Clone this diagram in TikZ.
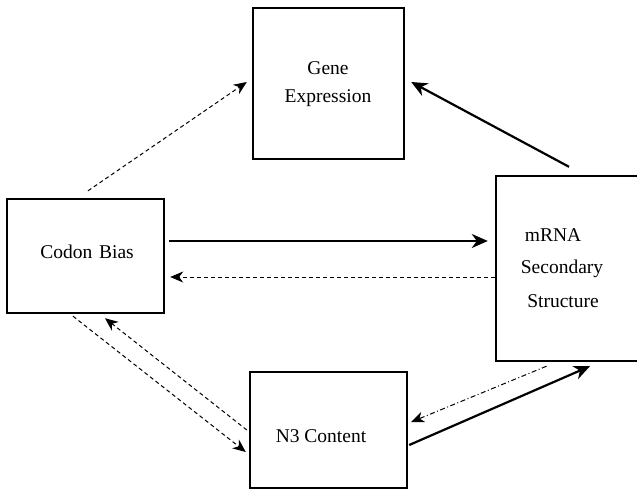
\documentclass[tikz,border=0pt]{standalone}
\usepackage{fontspec}
\setmainfont{Liberation Serif}
\usetikzlibrary{arrows.meta,calc}
\begin{document}
\begin{tikzpicture}[x=1pt,y=-1pt,
  box/.style={draw,line width=2.4pt,rectangle,inner sep=0pt},
  lbl/.style={anchor=base,inner sep=0pt,font=\rmfamily\fontsize{19.5}{24}\selectfont},
  strong/.style={line width=2.2pt,-{Stealth[length=16pt,width=14pt,inset=5pt]}},
  weak/.style={line width=1pt,dash pattern=on 4pt off 3pt,-{Stealth[length=13pt,width=11pt,inset=4pt]}},
  weakdd/.style={line width=1pt,dash pattern=on 5pt off 2.5pt on 1pt off 2.5pt,-{Stealth[length=13pt,width=11pt,inset=4pt]}}]
\useasboundingbox (0,0) rectangle (637,491);
\fill[white] (0,0) rectangle (637,491);

% boxes
\node[box,minimum width=157pt,minimum height=114pt] (codon) at (85.5,256) {};
\node[box,minimum width=151pt,minimum height=151pt] (gene) at (328.5,83.5) {};
\node[box,minimum width=143pt,minimum height=185pt] (mrna) at (567.5,268.5) {};
\node[box,minimum width=157pt,minimum height=116pt] (n3) at (328.5,430) {};

% labels
\node[lbl] (geneT1) at (328,74) {Gene};
\node[lbl] (geneT2) at (328,102) {Expression};
\node[lbl] (codonT) at (87,258) {Codon\hspace{0.35em}Bias};
\node[lbl] (n3T) at (321,442) {N3 Content};
\node[lbl] (mrnaT1) at (553,241) {mRNA};
\node[lbl] (mrnaT2) at (562,273) {Secondary};
\node[lbl] (mrnaT3) at (563,307) {Structure};

% connectors
\draw[weak] ($(codon.north)+(2.5,-7)$) -- ($(gene.west)+(-5,-1.5)$);
\draw[strong] ($(mrna.north)+(1.5,-8)$) -- ($(gene.east)+(6,-1.5)$);
\draw[strong] ($(codon.east)+(4,-15)$) -- ($(mrna.west)+(-7,-27.5)$);
\draw[weak] ($(mrna.west)+(0,8.5)$) -- ($(codon.east)+(5,21)$);
\draw[weak] ($(codon.south)+(-12.5,2)$) -- ($(n3.west)+(-3,22)$);
\draw[weak] ($(n3.west)+(-2,0)$) -- ($(codon.south)+(19.5,4)$);
\draw[weakdd] ($(mrna.south)+(-21,4)$) -- ($(n3.east)+(3,-8)$);
\draw[strong] ($(n3.east)+(1,15)$) -- ($(mrna.south)+(22.5,4)$);
\end{tikzpicture}
\end{document}
